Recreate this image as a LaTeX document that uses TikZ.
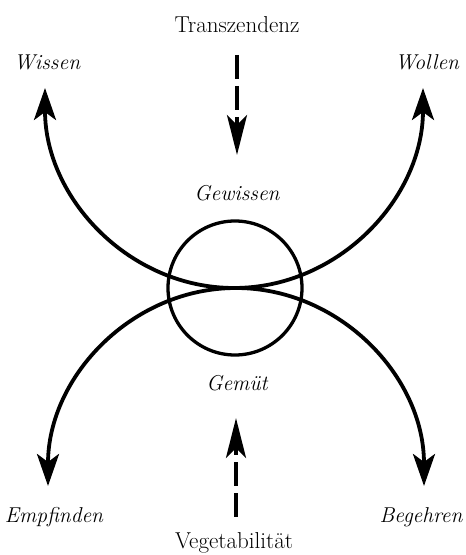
\documentclass[tikz,border=0pt]{standalone}
\usetikzlibrary{arrows.meta}
\begin{document}
\begin{tikzpicture}[x=1pt,y=1pt,
  lbl/.style={font=\fontsize{23}{27}\selectfont, inner sep=0pt},
  ilbl/.style={font=\fontsize{21.5}{26}\selectfont\itshape, inner sep=0pt},
  arcline/.style={line width=3.8pt, {Stealth[length=32pt,width=22pt,inset=8pt]}-{Stealth[length=32pt,width=22pt,inset=8pt]}},
  dasharrow/.style={line width=4.5pt, dash pattern=on 24pt off 7pt, -{Stealth[length=40pt,width=20pt,inset=10pt]}}
]
\useasboundingbox (0,0) rectangle (466,555);
% labels
\node[lbl]  (tr) at (237,530) {Transzendenz};
\node[lbl]  (ve) at (234,12) {Vegetabilität};
\node[ilbl] (wi) at (47,493) {Wissen};
\node[ilbl] (wo) at (427,493) {Wollen};
\node[ilbl] (gw) at (237,362) {Gewissen};
\node[ilbl] (gm) at (237,172) {Gemüt};
\node[ilbl] (em) at (54,38) {Empfinden};
\node[ilbl] (be) at (421,38) {Begehren};
% central circle
\node[draw, circle, line width=3.3pt, minimum size=134pt, inner sep=0pt] (c) at (235,267) {};
% arc end points
\coordinate (wt) at (45,467);
\coordinate (ot) at (423,467);
\coordinate (et) at (48,69);
\coordinate (bt) at (424,69);
% upper arc (Wissen - Wollen)
\draw[arcline] (wt) arc[start angle=180, end angle=360, x radius=189, y radius=200];
% lower arc (Empfinden - Begehren)
\draw[arcline] (et) arc[start angle=180, end angle=0, x radius=188, y radius=198];
% dashed arrows
\coordinate (ts) at (237,500);
\coordinate (te) at (237,400);
\coordinate (vs) at (236,38);
\coordinate (vend) at (236,137);
\draw[dasharrow] (ts) -- (te);
\draw[dasharrow] (vs) -- (vend);
\end{tikzpicture}
\end{document}
